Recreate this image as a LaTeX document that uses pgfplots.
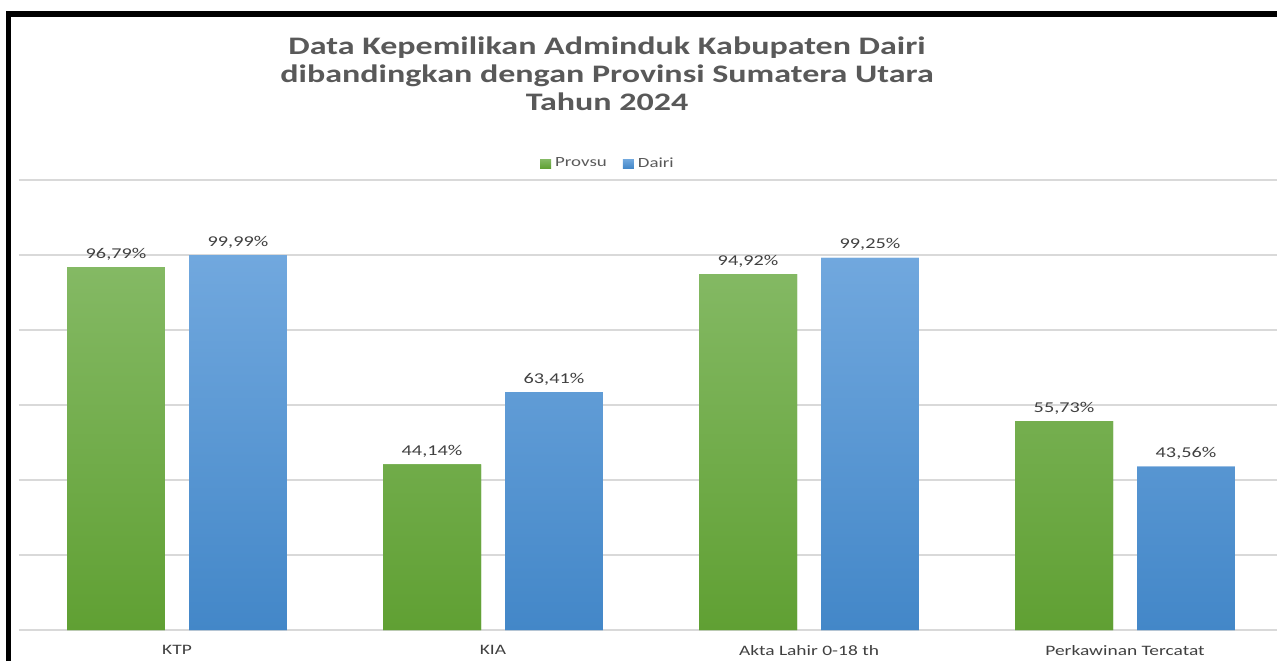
\documentclass[border=0pt]{standalone}
\usepackage{fontspec}
\setmainfont{Carlito}[FakeStretch=1.35]
\usepackage{pgfplots}
\pgfplotsset{compat=1.18}

\definecolor{txtgray}{HTML}{595959}
\definecolor{lblgray}{HTML}{404040}
\definecolor{gridgray}{HTML}{D9D9D9}
\definecolor{greentop}{HTML}{84B964}
\definecolor{greenbot}{HTML}{60A033}
\definecolor{bluetop}{HTML}{71A8DE}
\definecolor{bluebot}{HTML}{4387C8}

\begin{document}
\begin{tikzpicture}
\useasboundingbox (0,0) rectangle (638.5pt,330.5pt);
% frame (top and left edges only are visible)
\draw[line width=2.8pt, black] (4.25pt,0) -- (4.25pt,323.5pt) -- (640pt,323.5pt);

\node[align=center, text=txtgray, font=\fontsize{12.6}{14}\selectfont\bfseries]
  at (303.5pt,293.5pt) {Data Kepemilikan Adminduk Kabupaten Dairi\\dibandingkan dengan Provinsi Sumatera Utara\\Tahun 2024};

\begin{axis}[
  at={(9.5pt,15.5pt)}, anchor=south west,
  scale only axis, width=629pt, height=225pt,
  xmin=-0.5, xmax=3.481, ymin=0, ymax=120,
  ybar,
  xtick={0,1,2,3},
  xticklabels={KTP,KIA,Akta Lahir 0-18 th,Perkawinan Tercatat},
  ytick={0,20,40,60,80,100,120}, yticklabels={},
  ymajorgrids, grid style={gridgray, line width=0.8pt},
  axis line style={draw=none},
  major tick length=0pt,
  xticklabel style={font=\fontsize{7.2}{8}\selectfont, text=lblgray, yshift=-4pt},
  bar width=0.31,
  point meta=explicit symbolic,
  nodes near coords,
  every node near coord/.append style={font=\fontsize{7.5}{9}\selectfont, text=lblgray, anchor=south, yshift=0pt},
  legend columns=2,
  legend style={at={(0.469,1.036)}, anchor=center, draw=none, fill=none,
    font=\fontsize{7}{8}\selectfont, text=txtgray,
    /tikz/every even column/.append style={column sep=6pt}},
  legend image code/.code={\fill[#1] (0pt,-2.3pt) rectangle (5.5pt,2.3pt);},
]
% Provsu
\addplot[bar shift=-0.193, draw=none, top color=greentop, bottom color=greenbot, fill=greenbot]
  coordinates {(0,96.79) [96,79\%] (1,44.14) [44,14\%] (2,94.92) [94,92\%] (3,55.73) [55,73\%]};
\addlegendentry{Provsu}
% Dairi
\addplot[bar shift=0.193, draw=none, top color=bluetop, bottom color=bluebot, fill=bluebot]
  coordinates {(0,99.99) [99,99\%] (1,63.41) [63,41\%] (2,99.25) [99,25\%] (3,43.56) [43,56\%]};
\addlegendentry{Dairi}
\end{axis}
\end{tikzpicture}
\end{document}
